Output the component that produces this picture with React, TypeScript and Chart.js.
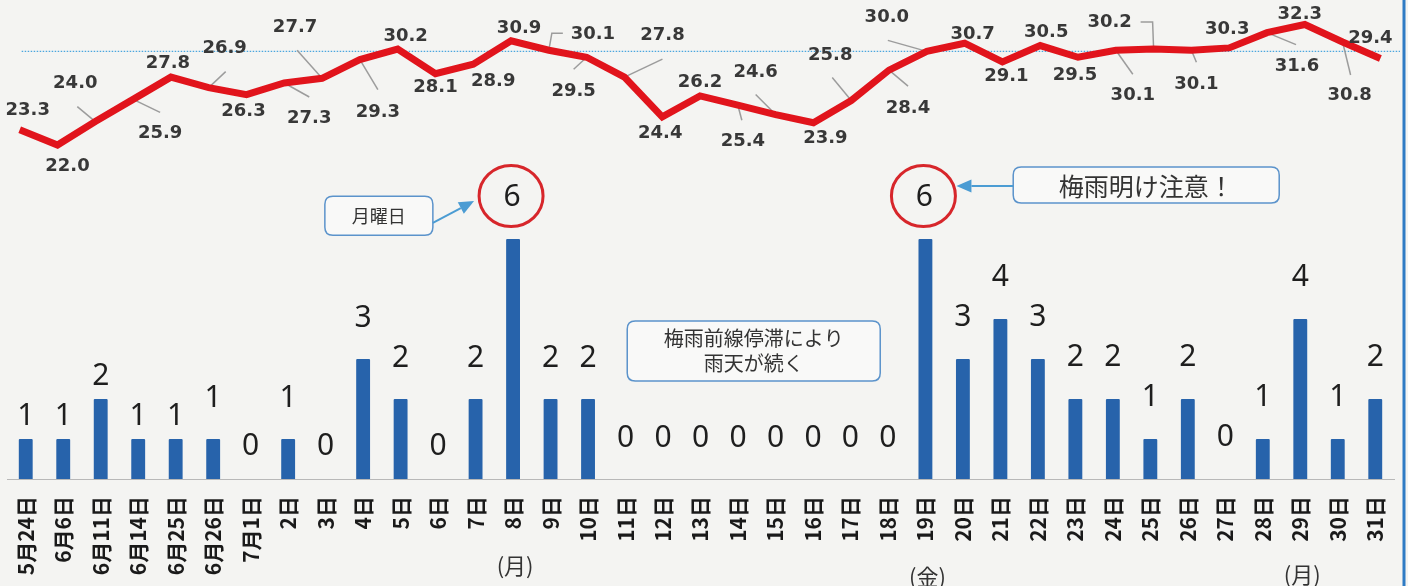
import React, { useEffect, useRef } from "react";
import { Chart, registerables } from "chart.js";

Chart.register(...registerables);

// ---------- data ----------
const categories = [
  "5月24日", "6月6日", "6月11日", "6月14日", "6月25日", "6月26日", "7月1日",
  "2日", "3日", "4日", "5日", "6日", "7日", "8日", "9日", "10日",
  "11日", "12日", "13日", "14日", "15日", "16日", "17日", "18日",
  "19日", "20日", "21日", "22日", "23日", "24日", "25日", "26日",
  "27日", "28日", "29日", "30日", "31日",
];

const patientCounts = [
  1, 1, 2, 1, 1, 1, 0,
  1, 0, 3, 2, 0, 2, 6, 2, 2,
  0, 0, 0, 0, 0, 0, 0, 0,
  6, 3, 4, 3, 2, 2, 1, 2,
  0, 1, 4, 1, 2,
];

const maxTemps = [
  23.3, 22.0, 24.0, 25.9, 27.8, 26.9, 26.3,
  27.3, 27.7, 29.3, 30.2, 28.1, 28.9, 30.9, 30.1, 29.5,
  27.8, 24.4, 26.2, 25.4, 24.6, 23.9, 25.8, 28.4,
  30.0, 30.7, 29.1, 30.5, 29.5, 30.1, 30.2, 30.1,
  30.3, 31.6, 32.3, 30.8, 29.4,
];

const referenceTemp = 30;
const circledBars = [13, 24];
const weekdayNotes = [
  { index: 13, text: "(月)" },
  { index: 24, text: "(金)" },
  { index: 34, text: "(月)" },
];

// ---------- label layout (annotation placement, px) ----------
const tempLabelLayout: { dx: number; dy: number; lead?: number[][] }[] = [
  { dx: 8, dy: -19 },
  { dx: 10, dy: 21 },
  { dx: -20, dy: -38, lead: [[-18, -15]] },
  { dx: 27, dy: 34, lead: [[27, 13]] },
  { dx: -3, dy: -14 },
  { dx: 16, dy: -39, lead: [[17, -16]] },
  { dx: -3, dy: 17 },
  { dx: 25, dy: 35, lead: [[25, 14]] },
  { dx: -27, dy: -51, lead: [[-25, -28]] },
  { dx: 18, dy: 53, lead: [[18, 30]] },
  { dx: 8, dy: -13 },
  { dx: 0, dy: 14 },
  { dx: 20, dy: 17 },
  { dx: 8, dy: -13 },
  { dx: 44, dy: -16, lead: [[3, -17], [14, -17]] },
  { dx: -13, dy: 34, lead: [[-13, 12]] },
  { dx: 38, dy: -42, lead: [[38, -18]] },
  { dx: -2, dy: 16 },
  { dx: 0, dy: -14 },
  { dx: 5, dy: 36, lead: [[4, 15]] },
  { dx: -20, dy: -42, lead: [[-20, -20]] },
  { dx: 12, dy: 16 },
  { dx: -21, dy: -45, lead: [[-19, -23]] },
  { dx: 19, dy: 38, lead: [[19, 16]] },
  { dx: -40, dy: -34, lead: [[-39, -11]] },
  { dx: 8, dy: -9 },
  { dx: 4, dy: 14 },
  { dx: 6, dy: -13 },
  { dx: -3, dy: 18 },
  { dx: 17, dy: 45, lead: [[17, 24]] },
  { dx: -44, dy: -27, lead: [[-1, -27], [-13, -27]] },
  { dx: 5, dy: 34, lead: [[5, 12]] },
  { dx: -2, dy: -19 },
  { dx: 30, dy: 34, lead: [[29, 12]] },
  { dx: -5, dy: -10 },
  { dx: 7, dy: 53, lead: [[8, 33]] },
  { dx: -10, dy: -20 },
];

const barLabelGap = [
  14, 14, 14, 14, 14, 32, 24,
  32, 24, 32, 32, 24, 32, 43, 32, 32,
  32, 32, 32, 32, 32, 32, 32, 32,
  43, 33, 33, 33, 33, 33, 33, 33,
  33, 33, 33, 33, 33,
];
const weekdayNoteDy = [87, 98, 96];

const CJK = '"Noto Sans CJK JP", "Noto Sans", sans-serif';

function roundRect(ctx: CanvasRenderingContext2D, x: number, y: number, w: number, h: number, r: number) {
  ctx.beginPath();
  ctx.moveTo(x + r, y);
  ctx.lineTo(x + w - r, y);
  ctx.quadraticCurveTo(x + w, y, x + w, y + r);
  ctx.lineTo(x + w, y + h - r);
  ctx.quadraticCurveTo(x + w, y + h, x + w - r, y + h);
  ctx.lineTo(x + r, y + h);
  ctx.quadraticCurveTo(x, y + h, x, y + h - r);
  ctx.lineTo(x, y + r);
  ctx.quadraticCurveTo(x, y, x + r, y);
  ctx.closePath();
}

function arrow(ctx: CanvasRenderingContext2D, x1: number, y1: number, x2: number, y2: number) {
  const ang = Math.atan2(y2 - y1, x2 - x1);
  const len = 15, hw = 6.5;
  const bx = x2 - Math.cos(ang) * len, by = y2 - Math.sin(ang) * len;
  ctx.strokeStyle = "#4b9cd3";
  ctx.fillStyle = "#4b9cd3";
  ctx.lineWidth = 2;
  ctx.beginPath();
  ctx.moveTo(x1, y1);
  ctx.lineTo(bx, by);
  ctx.stroke();
  ctx.beginPath();
  ctx.moveTo(x2, y2);
  ctx.lineTo(bx + Math.sin(ang) * hw, by - Math.cos(ang) * hw);
  ctx.lineTo(bx - Math.sin(ang) * hw, by + Math.cos(ang) * hw);
  ctx.closePath();
  ctx.fill();
}

function box(ctx: CanvasRenderingContext2D, cx: number, cy: number, w: number, h: number, lines: string[], size: number, lineOffsets: number[]) {
  ctx.save();
  roundRect(ctx, cx - w / 2, cy - h / 2, w, h, 8);
  ctx.fillStyle = "#f9f9f8";
  ctx.fill();
  ctx.strokeStyle = "#5b93cb";
  ctx.lineWidth = 1.5;
  ctx.stroke();
  ctx.fillStyle = "#333333";
  ctx.font = `${size}px ${CJK}`;
  ctx.textAlign = "center";
  ctx.textBaseline = "middle";
  lines.forEach((t, i) => ctx.fillText(t, cx, cy + lineOffsets[i]));
  ctx.restore();
}

const annotationPlugin = {
  id: "annotations",
  beforeDraw(chart: any) {
    const { ctx, width, height } = chart;
    ctx.save();
    ctx.fillStyle = "#f4f4f2";
    ctx.fillRect(0, 0, width, height);
    ctx.restore();
  },
  beforeDatasetsDraw(chart: any) {
    const { ctx, chartArea } = chart;
    const y1 = chart.scales.y1;
    const lineMeta = chart.getDatasetMeta(1);
    ctx.save();
    // reference temperature dotted line
    const ry = y1.getPixelForValue(referenceTemp);
    ctx.strokeStyle = "#4aa6de";
    ctx.lineWidth = 1.3;
    ctx.setLineDash([1.5, 1.5]);
    ctx.beginPath();
    ctx.moveTo(lineMeta.data[0].x + 2, ry);
    ctx.lineTo(chartArea.right + 6, ry);
    ctx.stroke();
    ctx.setLineDash([]);
    // leader lines
    ctx.strokeStyle = "#9c9c9c";
    ctx.lineWidth = 1.5;
    lineMeta.data.forEach((el: any, i: number) => {
      const lay = tempLabelLayout[i];
      if (!lay || !lay.lead) return;
      ctx.beginPath();
      ctx.moveTo(el.x, el.y);
      lay.lead.forEach((p) => ctx.lineTo(el.x + p[0], el.y + p[1]));
      ctx.stroke();
    });
    ctx.restore();
  },
  afterDatasetsDraw(chart: any) {
    const { ctx, chartArea } = chart;
    const xs = chart.scales.x;
    const ys = chart.scales.y;
    const barMeta = chart.getDatasetMeta(0);
    const lineMeta = chart.getDatasetMeta(1);
    ctx.save();

    // category labels (rotated, reading bottom-to-top)
    ctx.font = `bold 21px ${CJK}`;
    ctx.fillStyle = "#1a1a1a";
    ctx.textAlign = "right";
    ctx.textBaseline = "middle";
    categories.forEach((c, i) => {
      ctx.save();
      ctx.translate(xs.getPixelForValue(i), chartArea.bottom + 17);
      ctx.rotate(-Math.PI / 2);
      ctx.fillText(c, 0, 0);
      ctx.restore();
    });

    // temperature labels
    ctx.font = 'bold 18px "DejaVu Sans", sans-serif';
    ctx.fillStyle = "#383838";
    ctx.textAlign = "center";
    ctx.textBaseline = "middle";
    lineMeta.data.forEach((el: any, i: number) => {
      const lay = tempLabelLayout[i];
      ctx.fillText(maxTemps[i].toFixed(1), el.x + lay.dx, el.y + lay.dy);
    });

    // bar value labels
    ctx.font = '30px "Noto Sans", sans-serif';
    ctx.fillStyle = "#1e1e1e";
    ctx.textBaseline = "alphabetic";
    barMeta.data.forEach((el: any, i: number) => {
      if (circledBars.includes(i)) return;
      ctx.fillText(String(patientCounts[i]), el.x, el.y - barLabelGap[i]);
    });

    // circled labels
    const circles: { x: number; y: number }[] = [];
    circledBars.forEach((i) => {
      const el = barMeta.data[i];
      const cx = el.x - 2, cy = el.y - barLabelGap[i];
      circles.push({ x: cx, y: cy });
      ctx.beginPath();
      ctx.ellipse(cx, cy, 32, 30.5, 0, 0, Math.PI * 2);
      ctx.strokeStyle = "#d7262b";
      ctx.lineWidth = 3;
      ctx.stroke();
      ctx.fillStyle = "#1e1e1e";
      ctx.textBaseline = "middle";
      ctx.fillText(String(patientCounts[i]), cx + 1, cy + 1);
    });

    // callout boxes
    const b1 = { x: xs.getPixelForValue(9.42), y: ys.getPixelForValue(6.58), w: 108, h: 39 };
    box(ctx, b1.x, b1.y, b1.w, b1.h, ["月曜日"], 18, [0]);
    arrow(ctx, b1.x + b1.w / 2, b1.y + 7, circles[0].x - 37, circles[0].y + 5);

    const b2 = { x: xs.getPixelForValue(29.89), y: ys.getPixelForValue(7.35), w: 266, h: 36 };
    box(ctx, b2.x, b2.y, b2.w, b2.h, ["梅雨明け注意！"], 25, [1]);
    arrow(ctx, b2.x - b2.w / 2, b2.y + 1, circles[1].x + 33, b2.y + 1);

    const b3 = { x: xs.getPixelForValue(19.42), y: ys.getPixelForValue(3.2), w: 253, h: 60 };
    box(ctx, b3.x, b3.y, b3.w, b3.h, ["梅雨前線停滞により", "雨天が続く"], 20, [-13, 12]);

    // weekday notes
    ctx.font = `22px ${CJK}`;
    ctx.fillStyle = "#333333";
    ctx.textAlign = "center";
    ctx.textBaseline = "middle";
    weekdayNotes.forEach((n, k) => {
      ctx.fillText(n.text, xs.getPixelForValue(n.index) + 2, chartArea.bottom + weekdayNoteDy[k]);
    });

    // right frame
    ctx.strokeStyle = "#2f7bc4";
    ctx.lineWidth = 3;
    ctx.beginPath();
    ctx.moveTo(1404, 0);
    ctx.lineTo(1404, chart.height);
    ctx.stroke();
    ctx.restore();
  },
};

export default function App() {
  const ref = useRef<HTMLCanvasElement>(null);
  useEffect(() => {
    document.body.style.margin = "0";
    const chart = new Chart(ref.current as HTMLCanvasElement, {
      type: "bar",
      data: {
        labels: categories,
        datasets: [
          {
            type: "bar",
            label: "患者数",
            data: patientCounts,
            backgroundColor: "#2763ab",
            barPercentage: 0.37,
            categoryPercentage: 1,
            grouped: false,
            borderRadius: 1,
            xAxisID: "x",
            yAxisID: "y",
            order: 2,
          } as any,
          {
            type: "line",
            label: "最高気温",
            data: maxTemps.map((v, i) => ({ x: i, y: v })),
            borderColor: "#e1141c",
            borderWidth: 7,
            pointRadius: 0,
            tension: 0,
            borderJoinStyle: "miter",
            xAxisID: "x2",
            yAxisID: "y1",
            order: 1,
          } as any,
        ],
      },
      options: {
        responsive: false,
        animation: false,
        layout: { padding: { left: 7, right: 14, top: 0, bottom: 0 } },
        plugins: { legend: { display: false }, tooltip: { enabled: false } },
        scales: {
          x: {
            type: "category",
            offset: true,
            grid: { display: false, drawTicks: false },
            border: { display: true, color: "#b8b8b8", width: 1 },
            ticks: { display: false },
            afterFit: (s: any) => {
              s.height = 107;
            },
          },
          x2: { type: "linear", display: false, offset: false, min: -0.336, max: 36.36 },
          y: { display: false, min: 0, max: 11.975 },
          y1: { display: false, min: -6.547, max: 34.393 },
        },
      } as any,
      plugins: [annotationPlugin as any],
    });
    return () => chart.destroy();
  }, []);
  return (
    <div style={{ width: 1408, height: 586 }}>
      <canvas ref={ref} width={1408} height={586} style={{ display: "block", width: 1408, height: 586 }} />
    </div>
  );
}
